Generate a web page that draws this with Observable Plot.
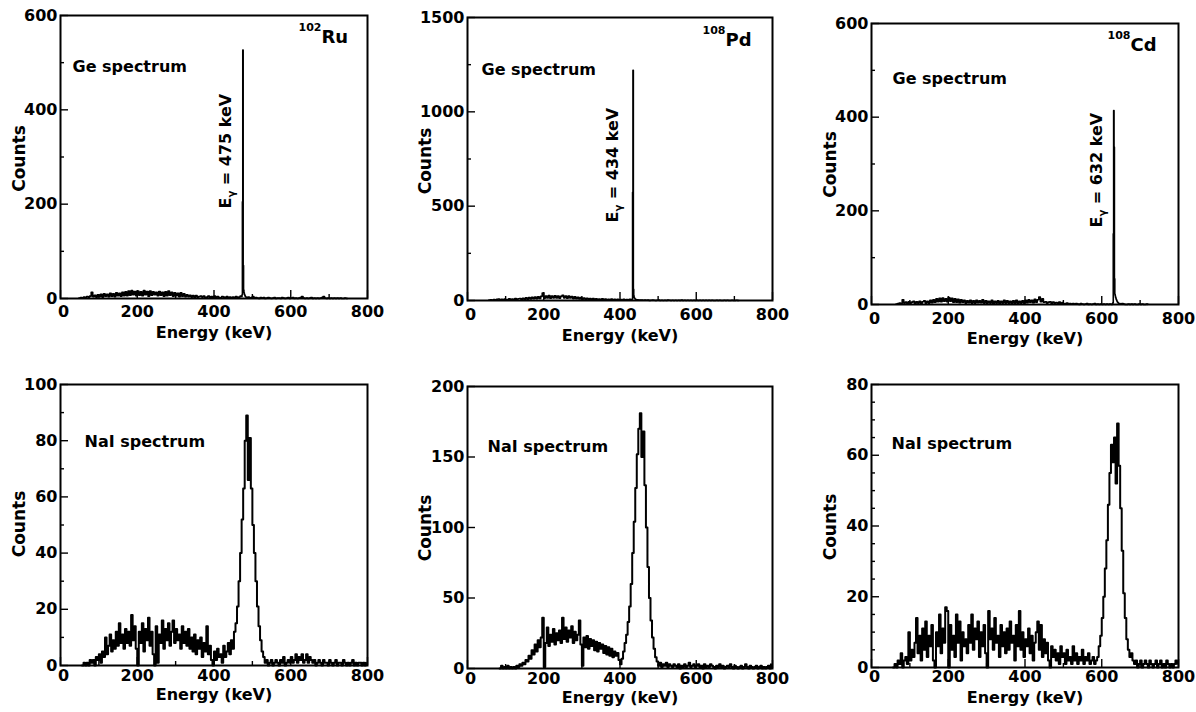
<!DOCTYPE html>
<html>
<head>
<meta charset="utf-8">
<script src="https://cdn.jsdelivr.net/npm/d3@7"></script>
<script src="https://cdn.jsdelivr.net/npm/@observablehq/plot@0.6"></script>
<style>
  body { margin: 0; background: #fff; }
  #chart { position: relative; width: 1196px; height: 712px; overflow: hidden; background: #fff; }
  #chart svg { position: absolute; max-width: none; }
</style>
</head>
<body>
<div id="chart"></div>
<script>
// ---------------- data ----------------
const binWidth = 4;                 // keV per histogram bin
const energyDomain = [0, 800];
const xMajorTicks = [0, 200, 400, 600, 800];
const xMinorTicks = [100, 300, 500, 700];

const isotopeMass = ["102", "108", "108"];
const isotopeSymbol = ["Ru", "Pd", "Cd"];
const gammaEnergy = [475, 434, 632];
const detectorNames = ["Ge spectrum", "NaI spectrum"];

const yMaxGe = [600, 1500, 600];
const yMaxNaI = [100, 200, 80];
const yMajorGe = [[0, 200, 400, 600], [0, 500, 1000, 1500], [0, 200, 400, 600]];
const yMinorGe = [[100, 300, 500], [250, 750, 1250], [100, 300, 500]];
const yMajorNaI = [[0, 20, 40, 60, 80, 100], [0, 50, 100, 150, 200], [0, 20, 40, 60, 80]];
const yMinorNaI = [[10, 30, 50, 70, 90], [], [5, 10, 15, 25, 30, 35, 45, 50, 55, 65, 70, 75]];

// Ge spectrum, 102Ru (4 keV bins from 48 keV) + 1 keV bins around the line
const geRuStart = 48;
const geRuCounts = [
  1,2,1,3,2,4,3,5,13,4,
  7,3,8,4,9,3,10,5,9,4,
  11,5,10,4,12,6,11,5,13,6,
  14,6,16,7,17,8,15,6,16,7,
  14,6,17,8,15,5,16,7,14,8,
  13,6,15,7,13,5,14,6,16,7,
  13,5,12,6,11,4,12,5,10,4,
  8,4,7,3,6,2,6,3,4,5,
  3,5,2,3,5,1,4,2,5,2,
  4,2,1,4,3,1,4,2,3,1,
  3,2,4,2,3,5,4,10,6,2,
  3,1,2,4,1,2,1,0,2,1,
  2,0,1,2,1,0,1,2,0,1,
  1,0,2,1,0,1,2,0,1,2,
  0,1,0,1,2,4,1,0,1,0,
  1,2,0,1,0,1,0,1,2,4,
  1,0,1,0,1,0,1,0,1,0,
  1,0,0,1,0,0
];
const geRuPeakStart = 472;
const geRuPeakCounts = [4,8,205,527,70,18,12,9,7,5,4,3];

// Ge spectrum, 108Pd
const gePdStart = 56;
const gePdCounts = [
  2,4,3,5,4,6,8,5,7,4,
  8,4,5,9,4,8,5,10,4,9,
  11,5,12,6,14,7,15,8,17,9,
  18,10,20,11,22,39,12,24,13,26,
  12,23,14,25,13,24,12,22,27,14,
  24,12,23,13,21,10,19,9,17,8,
  15,7,13,6,12,5,11,4,10,4,
  9,4,8,3,9,4,8,3,7,3,
  8,3,7,2,6,3,5,2,6,3,
  5,2,6,5,8,6,5,4,3,2,
  3,1,2,1,2,0,1,2,1,0,
  1,2,0,1,0,1,0,2,1,0,
  1,0,1,0,1,0,2,0,1,0,
  1,0,1,0,1,0,1,0,1,0,
  1,0,1,0,1,0,1,0,0,1,
  0,1,0,0,1,0,1,0,0,1,
  0,0,1,0,0
];
const gePdPeakStart = 432;
const gePdPeakCounts = [8,574,1220,60,25,15,12,9,7,6,5,4];

// Ge spectrum, 108Cd
const geCdStart = 64;
const geCdCounts = [
  1,2,3,2,10,3,5,2,6,3,
  5,7,2,6,3,7,2,6,8,3,
  7,3,9,4,10,5,12,6,13,6,
  14,7,12,6,15,7,13,5,12,5,
  11,4,10,5,9,3,8,4,9,3,
  8,3,9,4,8,4,10,3,8,3,
  7,3,9,2,7,3,8,2,7,3,
  9,3,8,3,7,2,8,3,9,2,
  7,3,8,3,9,4,10,5,9,4,
  11,5,10,16,6,12,5,6,3,5,
  6,2,5,3,4,2,5,2,4,1,
  2,3,1,2,1,2,1,2,1,0,
  2,1,0,1,2,0,1,0,1,2,
  0,1,0,1,0,1,0,1,0,1,
  0,2,3,4,3,2,1,2,1,0,
  0,1,0,1,0,1,0,0,1,0,
  1,0,0,1,0
];
const geCdPeakStart = 628;
const geCdPeakCounts = [2,4,151,414,336,55,22,18,15,12,10,8,6,5,4,3];

// NaI spectrum, 102Ru
const naiRuStart = 56;
const naiRuCounts = [
  0,1,0,1,0,2,1,2,0,3,
  2,4,1,5,3,10,4,7,11,5,
  9,6,12,7,15,8,11,6,13,8,
  12,7,18,9,14,6,0,12,8,15,
  5,13,9,17,7,12,4,0,14,1,
  11,8,16,6,13,9,15,7,12,16,
  8,13,9,11,6,14,8,12,7,13,
  6,10,5,11,4,9,6,10,3,8,
  5,14,4,7,2,0,5,2,6,3,
  4,1,7,3,5,8,4,9,6,12,
  15,21,30,40,52,63,80,89,66,81,
  63,50,40,30,21,14,9,5,3,1,
  2,0,1,2,0,1,2,1,0,2,
  1,3,0,1,2,1,3,1,2,4,
  1,3,2,4,1,2,4,1,3,2,
  1,2,0,1,2,1,0,2,1,1,
  0,2,1,0,1,2,0,1,1,0,
  2,1,0,1,0,1,2,0,1,0,
  1,1,0,1,0,1
];

// NaI spectrum, 108Pd
const naiPdStart = 84;
const naiPdCounts = [
  0,2,0,1,0,2,0,1,0,1,
  0,2,1,3,2,4,3,6,5,9,
  7,13,10,17,12,20,15,22,36,1,
  18,29,16,24,19,28,17,25,20,27,
  18,36,21,29,19,27,22,30,18,26,
  20,24,34,17,2,22,15,23,14,21,
  16,20,13,19,12,18,14,17,11,16,
  10,15,9,14,8,12,9,11,6,3,
  7,12,18,24,33,44,60,82,104,128,
  152,170,181,150,168,130,100,72,50,34,
  22,14,8,5,2,4,1,3,2,4,
  1,3,2,1,3,2,1,3,0,2,
  1,3,1,2,4,1,2,3,1,2,
  3,1,2,0,3,1,2,1,3,2,
  1,0,2,1,3,1,2,0,1,2,
  1,3,1,0,2,1,0,1,2,0,
  1,3,1,0,2,1,0,1,2,0,
  1,2,0,1,0,1,2,0,3
];

// NaI spectrum, 108Cd
const naiCdStart = 56;
const naiCdCounts = [
  0,1,0,2,1,4,0,2,3,1,
  10,2,5,3,7,14,4,9,2,11,
  5,13,3,9,6,12,2,0,10,6,
  15,4,11,7,17,16,0,12,5,9,
  3,15,7,13,2,10,6,8,4,12,
  7,15,5,11,8,13,3,10,6,12,
  4,0,16,8,11,5,14,7,9,3,
  12,6,10,4,11,5,13,7,9,2,
  12,6,16,5,10,3,8,6,11,4,
  9,2,7,10,13,5,12,3,8,4,
  7,2,0,6,3,5,2,4,1,6,
  3,4,1,5,2,3,1,6,2,4,
  1,3,2,5,1,3,2,4,1,2,
  3,1,2,3,6,9,14,20,28,36,
  46,55,63,58,65,52,69,57,45,33,
  21,14,8,5,3,4,2,1,2,0,
  1,2,0,1,2,1,0,2,1,0,
  1,2,0,1,2,0,1,0,2,1,
  0,1,0,1,2,1
];

// ---------------- build tables ----------------
function histogram(start, counts, peakStart, peakCounts) {
  const rows = counts.map((c, i) => ({energy: start + i * binWidth, counts: c}));
  if (!peakCounts) return rows;
  const end = peakStart + peakCounts.length;
  const kept = rows.filter(d => d.energy < peakStart || d.energy >= end);
  const peak = peakCounts.map((c, i) => ({energy: peakStart + i, counts: c}));
  return kept.concat(peak).sort((a, b) => a.energy - b.energy);
}

const spectra = [
  histogram(geRuStart, geRuCounts, geRuPeakStart, geRuPeakCounts),
  histogram(gePdStart, gePdCounts, gePdPeakStart, gePdPeakCounts),
  histogram(geCdStart, geCdCounts, geCdPeakStart, geCdPeakCounts),
  histogram(naiRuStart, naiRuCounts),
  histogram(naiPdStart, naiPdCounts),
  histogram(naiCdStart, naiCdCounts)
];

// ---------------- layout (pixels) ----------------
const svgLeft = [0, 398, 798], svgWidth = [398, 400, 398];
const svgTop = [0, 356], svgHeight = 356;
const frames = [
  {l: 60, r: 367, t: 15, b: 298}, {l: 467, r: 772, t: 17, b: 300}, {l: 871, r: 1178, t: 23, b: 304},
  {l: 60, r: 367, t: 384, b: 665}, {l: 467, r: 772, t: 386, b: 668}, {l: 871, r: 1178, t: 384, b: 667}
];
const xLabelPad = [7, 8, 8, 4, 4, 3];
const xTitleBase = [337, 340, 343, 699, 702, 702];
const detLabelPos = [[72, 71], [481, 74], [892, 83], [84, 446], [487, 451], [891, 448]];
const isoPos = [[321, 42, 30.5], [725, 45.5, 33], [1130, 50, 38]];
const gammaPos = [[230, 208], [617, 222], [1101, 227]];
const countsDx = [-36, -37, -36, -36, -37, -36];
const countsDy = [1.5, 2, 0.5, -1, 0.5, 1];

const container = document.getElementById("chart");

for (let i = 0; i < 6; i++) {
  const col = i % 3, row = Math.floor(i / 3);
  const f = frames[i];
  const sx = svgLeft[col], sy = svgTop[row], sw = svgWidth[col], sh = svgHeight;
  const isGe = row === 0;
  const yMax = isGe ? yMaxGe[col] : yMaxNaI[col];
  const yMajor = isGe ? yMajorGe[col] : yMajorNaI[col];
  const yMinor = isGe ? yMinorGe[col] : yMinorNaI[col];
  const rel = (px, py) => ({frameAnchor: "top-left", dx: px - f.l, dy: py - f.t});
  const textStyle = {fontWeight: "bold", fill: "black"};

  const marks = [
    Plot.line(spectra[i], {x: "energy", y: "counts", curve: "step-after", stroke: "black", strokeWidth: isGe ? 1.6 : 2.0}),
    Plot.axisX({ticks: xMajorTicks, tickSize: -8, fill: "none", label: null, strokeWidth: 1.4}),
    Plot.axisX({ticks: xMinorTicks, tickSize: -4, fill: "none", label: null, strokeWidth: 1.4}),
    Plot.axisX({ticks: xMajorTicks.slice(1), tickSize: 0, tickPadding: xLabelPad[i], tickFormat: d3.format("d"), label: null, fontSize: 16, ...textStyle}),
    Plot.axisX({ticks: [0], tickSize: 0, tickPadding: xLabelPad[i], dx: 3, tickFormat: d3.format("d"), label: null, fontSize: 16, ...textStyle}),
    Plot.axisY({ticks: yMajor, tickSize: -8, fill: "none", label: null, strokeWidth: 1.4}),
    Plot.axisY({ticks: yMinor, tickSize: -4, fill: "none", label: null, strokeWidth: 1.4}),
    Plot.axisY({ticks: yMajor, tickSize: 0, tickPadding: 3, tickFormat: d3.format("d"), label: null, fontSize: 16, ...textStyle}),
    Plot.frame({stroke: "black", strokeWidth: 2}),
    Plot.text(["Counts"], {text: d => d, frameAnchor: "left", dx: countsDx[i], dy: countsDy[i], rotate: -90, textAnchor: "middle", lineAnchor: "bottom", fontSize: 17, ...textStyle}),
    Plot.text(["Energy (keV)"], {text: d => d, frameAnchor: "bottom", dy: xTitleBase[i] - f.b, textAnchor: "middle", lineAnchor: "bottom", fontSize: 16, ...textStyle}),
    Plot.text([detectorNames[row]], {text: d => d, ...rel(detLabelPos[i][0], detLabelPos[i][1]), textAnchor: "start", lineAnchor: "bottom", fontSize: 16, ...textStyle})
  ];
  if (isGe) {
    marks.push(
      Plot.text([isotopeSymbol[col]], {text: d => d, ...rel(isoPos[col][0], isoPos[col][1]), textAnchor: "start", lineAnchor: "bottom", fontSize: 18, ...textStyle}),
      Plot.text([isotopeMass[col]], {text: d => d, ...rel(isoPos[col][0], isoPos[col][2]), textAnchor: "end", lineAnchor: "bottom", fontSize: 11, ...textStyle}),
      Plot.text(["E\u03B3 = " + gammaEnergy[col] + " keV"], {text: d => d, ...rel(gammaPos[col][0], gammaPos[col][1]), rotate: -90, textAnchor: "start", lineAnchor: "bottom", fontSize: 16, ...textStyle})
    );
  }

  const svg = Plot.plot({
    width: sw, height: sh,
    marginLeft: f.l - sx, marginRight: sx + sw - f.r,
    marginTop: f.t - sy, marginBottom: sy + sh - f.b,
    x: {domain: energyDomain},
    y: {domain: [0, yMax]},
    style: {fontFamily: "'DejaVu Sans', sans-serif", fontSize: "16px", fontWeight: "bold", color: "black", background: "white", overflow: "visible"},
    marks
  });
  svg.style.left = sx + "px";
  svg.style.top = sy + "px";

  // subscript gamma in the line-energy labels
  svg.querySelectorAll("text").forEach(t => {
    if (t.childElementCount === 0 && t.textContent.startsWith("E\u03B3")) {
      const rest = t.textContent.slice(2);
      const ns = "http://www.w3.org/2000/svg";
      t.textContent = "";
      const a = document.createElementNS(ns, "tspan"); a.textContent = "E";
      const b = document.createElementNS(ns, "tspan"); b.textContent = "\u03B3";
      b.setAttribute("font-size", "10"); b.setAttribute("dy", "4");
      const c = document.createElementNS(ns, "tspan"); c.textContent = rest; c.setAttribute("dy", "-4");
      t.append(a, b, c);
    }
  });
  container.appendChild(svg);
}
</script>
</body>
</html>
